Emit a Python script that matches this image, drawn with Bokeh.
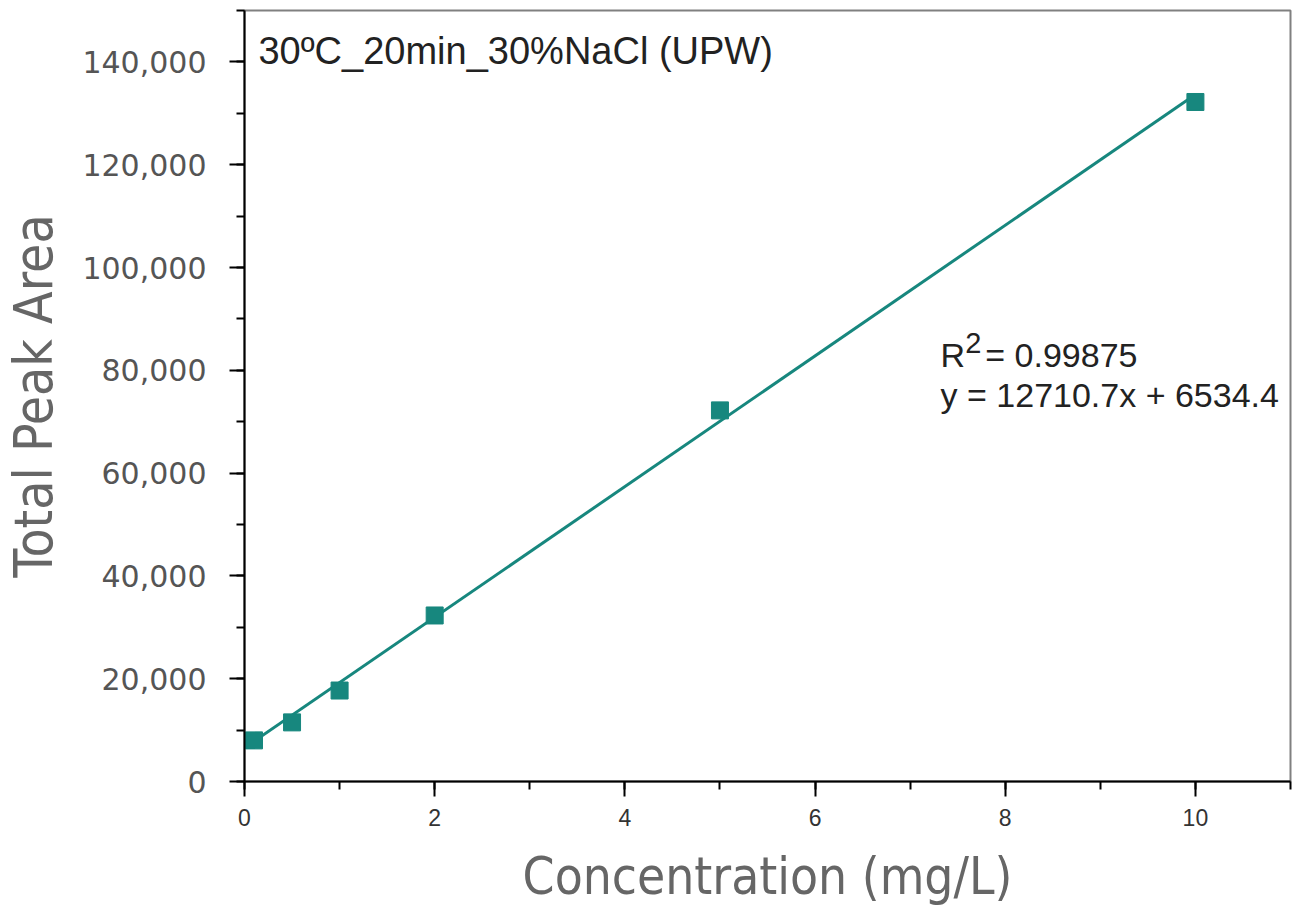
from bokeh.plotting import figure
from bokeh.models import Range1d, SingleIntervalTicker, NumeralTickFormatter, Label
from bokeh.embed import file_html
from bokeh.resources import INLINE
import numpy as np

# ---- data ----
conc = [0.1, 0.5, 1.0, 2.0, 5.0, 10.0]
peak_area = [8000, 11500, 17700, 32300, 72200, 132200]
fit_slope = 12710.7
fit_intercept = 6534.4
r_squared = "0.99875"
title_text = "30ºC_20min_30%NaCl (UPW)"
x_label = "Concentration (mg/L)"
y_label = "Total Peak Area"

TEAL = "#17877e"
COND = "'DejaVu Sans Condensed', 'Liberation Sans Narrow', sans-serif"

p = figure(width=1293, height=908, output_backend="svg", toolbar_location=None,
           x_range=Range1d(0, 11), y_range=Range1d(0, 150000),
           min_border_left=244, min_border_right=3, min_border_top=10, min_border_bottom=127)
p.background_fill_color = "white"
p.border_fill_color = "white"
p.outline_line_color = "#808080"
p.outline_line_width = 2
p.xgrid.visible = False
p.ygrid.visible = False

# fit line
fx = np.array([min(conc), max(conc)])
fy = fit_slope * fx + fit_intercept
p.line(fx, fy, line_color=TEAL, line_width=3)
p.scatter(conc, peak_area, marker="square", size=17, fill_color=TEAL, line_color=TEAL)

# axes
xa = p.xaxis[0]
xa.ticker = SingleIntervalTicker(interval=2, num_minor_ticks=2)
xa.axis_line_width = 2
xa.axis_line_color = "black"
xa.major_tick_line_width = 2
xa.minor_tick_line_width = 2
xa.major_tick_in = 0
xa.major_tick_out = 15
xa.minor_tick_in = 0
xa.minor_tick_out = 8
xa.major_label_text_font = "Liberation Sans"
xa.major_label_text_font_size = "23px"
xa.major_label_text_color = "#333333"
xa.major_label_standoff = 12
xa.axis_label = x_label
xa.axis_label_text_font = COND
xa.axis_label_text_font_size = "51px"
xa.axis_label_text_font_style = "normal"
xa.axis_label_text_color = "#666666"
xa.axis_label_standoff = 18

ya = p.yaxis[0]
ya.ticker = SingleIntervalTicker(interval=20000, num_minor_ticks=2)
ya.formatter = NumeralTickFormatter(format="0,0")
ya.axis_line_width = 2
ya.axis_line_color = "black"
ya.major_tick_line_width = 2
ya.minor_tick_line_width = 2
ya.major_tick_in = 0
ya.major_tick_out = 15
ya.minor_tick_in = 0
ya.minor_tick_out = 8
ya.major_label_text_font = "DejaVu Sans"
ya.major_label_text_font_size = "30px"
ya.major_label_text_color = "#555555"
ya.major_label_standoff = 23
ya.axis_label = y_label
ya.axis_label_text_font = COND
ya.axis_label_text_font_size = "53px"
ya.axis_label_text_font_style = "normal"
ya.axis_label_text_color = "#666666"
ya.axis_label_standoff = 15

# annotations
p.add_layout(Label(x=0.147, y=142200, text=title_text, text_font="Liberation Sans",
                   text_font_size="38px", text_color="#222222", text_baseline="alphabetic"))
p.add_layout(Label(x=7.32, y=82900, text="R", text_font="Liberation Sans",
                   text_font_size="34px", text_color="#222222", text_baseline="alphabetic"))
p.add_layout(Label(x=7.58, y=85400, text="2", text_font="Liberation Sans",
                   text_font_size="29px", text_color="#222222", text_baseline="alphabetic"))
p.add_layout(Label(x=7.79, y=82900, text="= " + r_squared, text_font="Liberation Sans",
                   text_font_size="34px", text_color="#222222", text_baseline="alphabetic"))
p.add_layout(Label(x=7.32, y=75100,
                   text="y = %.1fx + %.1f" % (fit_slope, fit_intercept),
                   text_font="Liberation Sans", text_font_size="34px",
                   text_color="#222222", text_baseline="alphabetic"))

open("out.html", "w").write(file_html(p, INLINE))
